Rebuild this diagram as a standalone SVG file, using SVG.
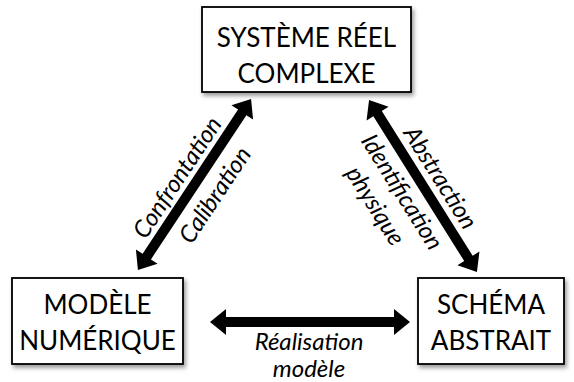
<svg xmlns="http://www.w3.org/2000/svg" width="574" height="382" viewBox="0 0 574 382">
  <defs>
    <filter id="sh" x="-10%" y="-10%" width="130%" height="140%">
      <feDropShadow dx="2" dy="3" stdDeviation="2" flood-color="#000" flood-opacity="0.4"/>
    </filter>
  </defs>
  <style>
    .box { fill: #fff; stroke: #000; stroke-width: 1.8; filter: url(#sh); }
    .bt { font-family: Lato, "Open Sans", sans-serif; font-size: 26px; fill: #000; text-anchor: middle; }
    .lt { font-family: Lato, "Open Sans", sans-serif; font-size: 24px; font-style: italic; fill: #000; text-anchor: middle; }
    .arr { fill: #000; }
  </style>
  <rect width="574" height="382" fill="#fff"/>
  <g id="connectors">
    <path class="arr" d="M210,322 L226,309 L226,317 L394,317 L394,309 L410,322 L394,335 L394,327 L226,327 L226,335 Z"/>
    <g transform="translate(194.5,184.5) rotate(-56.5)">
      <path class="arr" d="M-102.5,0 L-86.5,-13 L-86.5,-5 L86.5,-5 L86.5,-13 L102.5,0 L86.5,13 L86.5,5 L-86.5,5 L-86.5,13 Z"/>
      <text class="lt" x="-3.7" y="-10">Confrontation</text>
      <text class="lt" x="2.5" y="31">Calibration</text>
    </g>
    <g transform="translate(423,186) rotate(57.9)">
      <path class="arr" d="M-101.5,0 L-85.5,-13 L-85.5,-5 L85.5,-5 L85.5,-13 L101.5,0 L85.5,13 L85.5,5 L-85.5,5 L-85.5,13 Z"/>
      <text class="lt" x="2.2" y="-11">Abstraction</text>
      <text class="lt" x="-6.1" y="29">Identification</text>
      <text class="lt" x="-8.5" y="59">physique</text>
    </g>
    <text class="lt" x="309" y="350">Réalisation</text>
    <text class="lt" x="309" y="377">modèle</text>
  </g>
  <g id="systeme">
    <rect class="box" x="202" y="7" width="209" height="85"/>
    <text class="bt" x="306.5" y="47">SYSTÈME RÉEL</text>
    <text class="bt" x="306.5" y="83">COMPLEXE</text>
  </g>
  <g id="modele">
    <rect class="box" x="12" y="278" width="171" height="86"/>
    <text class="bt" x="97.5" y="314">MODÈLE</text>
    <text class="bt" x="97.5" y="350">NUMÉRIQUE</text>
  </g>
  <g id="schema">
    <rect class="box" x="418" y="278" width="146" height="86"/>
    <text class="bt" x="491" y="314">SCHÉMA</text>
    <text class="bt" x="491" y="350">ABSTRAIT</text>
  </g>
</svg>
